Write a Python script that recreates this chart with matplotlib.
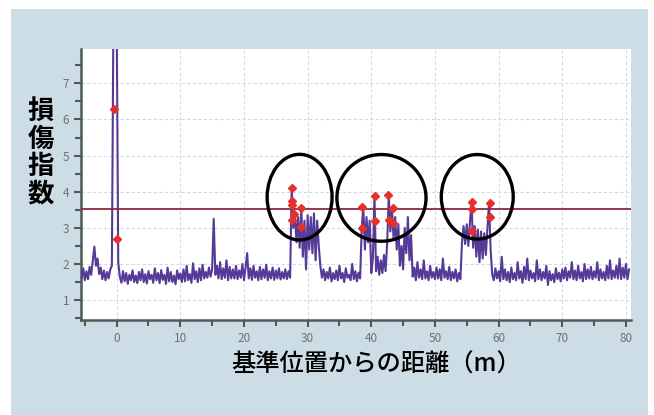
import numpy as np
import matplotlib
matplotlib.use("Agg")
import matplotlib.pyplot as plt
from matplotlib.patches import Ellipse, Rectangle

plt.rcParams['font.family'] = ['Noto Sans CJK JP', 'DejaVu Sans']

# distance grid (m): start and step of the measurement samples
x_start = -5.5
x_step = 0.25

# damage index, one row per 4 m (16 samples)
damage_idx = [
    1.62, 1.88, 1.55, 1.80, 1.58, 1.92, 1.70, 2.10, 2.48, 1.95, 2.15, 1.72, 1.90, 1.58, 1.82, 1.55,  # -5.5
    1.78, 1.60, 1.85, 1.95, 9.00, 9.00, 9.00, 2.05, 1.65, 1.48, 1.80, 1.52, 1.75, 1.45, 1.70, 1.55,  # -1.5
    1.82, 1.50, 1.68, 1.47, 1.78, 1.55, 1.85, 1.50, 1.72, 1.46, 1.80, 1.58, 1.70, 1.48, 1.88, 1.55,  # 2.5
    1.75, 1.47, 1.83, 1.56, 1.70, 1.45, 1.90, 1.52, 1.78, 1.50, 1.68, 1.44, 1.82, 1.58, 1.74, 1.50,  # 6.5
    1.85, 1.52, 1.95, 1.55, 1.72, 1.48, 2.02, 1.58, 1.80, 1.50, 1.88, 1.55, 1.98, 1.60, 1.78, 1.62,  # 10.5
    1.90, 1.65, 1.85, 3.25, 1.70, 1.95, 1.60, 2.05, 1.58, 1.88, 1.62, 2.10, 1.55, 1.92, 1.60, 1.85,  # 14.5
    1.60, 1.95, 1.58, 1.82, 1.62, 2.00, 1.55, 1.90, 2.30, 1.60, 1.88, 1.56, 1.95, 1.62, 1.80, 1.55,  # 18.5
    1.92, 1.58, 1.85, 1.62, 1.98, 1.55, 1.80, 1.60, 1.90, 1.56, 1.82, 1.60, 1.88, 1.57, 1.78, 1.60,  # 22.5
    1.85, 1.58, 1.80, 1.62, 4.10, 3.00, 3.40, 2.60, 3.30, 2.45, 3.55, 2.20, 3.20, 1.85, 3.35, 2.40,  # 26.5
    3.30, 2.30, 3.40, 2.10, 3.20, 2.50, 1.95, 1.62, 1.85, 1.55, 1.78, 1.60, 1.90, 1.52, 1.75, 1.58,  # 30.5
    1.82, 1.55, 1.95, 1.60, 1.75, 1.50, 1.88, 1.62, 1.70, 1.55, 2.00, 1.58, 1.80, 1.52, 1.76, 1.60,  # 34.5
    3.00, 3.57, 2.40, 3.30, 2.60, 3.20, 1.75, 2.15, 3.90, 1.80, 2.20, 1.70, 2.10, 1.75, 2.25, 1.80,  # 38.5
    2.60, 3.91, 2.90, 3.54, 2.70, 3.30, 2.40, 3.10, 1.95, 2.50, 1.85, 3.00, 2.30, 3.30, 2.10, 2.80,  # 42.5
    1.65, 1.90, 1.55, 2.05, 1.62, 1.85, 1.58, 2.10, 1.60, 1.80, 1.55, 1.95, 1.62, 1.78, 1.58, 1.90,  # 46.5
    1.60, 1.85, 1.55, 2.15, 1.62, 1.80, 1.58, 1.92, 1.55, 1.78, 1.60, 1.85, 1.52, 1.75, 1.58, 2.60,  # 50.5
    3.05, 2.55, 3.10, 2.50, 3.15, 3.72, 2.45, 3.05, 2.20, 2.95, 2.05, 2.90, 2.15, 2.85, 2.25, 3.00,  # 54.5
    3.69, 2.40, 1.70, 1.55, 1.88, 1.60, 1.80, 1.52, 2.20, 1.58, 1.85, 1.55, 1.78, 1.50, 1.90, 1.58,  # 58.5
    1.75, 1.55, 2.05, 1.60, 1.80, 1.48, 1.92, 1.58, 2.15, 1.55, 1.82, 1.60, 1.75, 1.52, 2.10, 1.58,  # 62.5
    1.85, 1.55, 1.78, 1.60, 1.95, 1.42, 1.80, 1.55, 1.72, 1.50, 1.88, 1.58, 1.76, 1.52, 1.85, 1.60,  # 66.5
    1.90, 1.55, 1.80, 1.62, 2.05, 1.58, 1.82, 1.55, 1.95, 1.60, 1.78, 1.52, 2.00, 1.58, 1.85, 1.60,  # 70.5
    1.92, 1.58, 1.80, 1.62, 2.05, 1.55, 1.85, 1.60, 1.78, 1.55, 1.95, 1.60, 2.10, 1.58, 1.82, 1.62,  # 74.5
    1.95, 1.60, 2.15, 1.58, 1.90, 1.62, 2.00, 1.58, 1.85,                                              # 78.5
]

# detected damage points (red markers)
mark_x = [-0.37, 0.1, 27.6, 27.5, 27.6, 27.8, 27.6, 28.9, 28.9,
          38.6, 38.6, 40.6, 40.6, 42.7, 43.4, 42.8, 43.4,
          55.75, 55.75, 55.9, 58.6, 58.6]
mark_y = [6.28, 2.70, 4.10, 3.74, 3.62, 3.39, 3.22, 3.54, 3.02,
          3.57, 3.00, 3.89, 3.18, 3.91, 3.54, 3.22, 3.13,
          3.72, 3.52, 2.91, 3.69, 3.31]

threshold = 3.52

# circled zones: centre x, centre y, width, height
zone_cx = [28.74, 41.6, 56.65]
zone_cy = [3.85, 3.83, 3.86]
zone_w = [10.2, 14.0, 11.3]
zone_h = [2.37, 2.40, 2.34]

dist = x_start + x_step * np.arange(len(damage_idx))

fig = plt.figure(figsize=(6.54, 4.15), dpi=100, facecolor="white")
fig.patches.append(Rectangle((11 / 654, 0), 637 / 654, 406 / 415,
                             transform=fig.transFigure, facecolor="#cddde6",
                             edgecolor="none", zorder=-10))

ax = fig.add_axes([81 / 654, 1 - 320 / 415, 550 / 654, 271 / 415])
ax.set_facecolor("white")

ax.plot(dist, damage_idx, color="#553a98", lw=1.5, zorder=3)
ax.axhline(threshold, color="#8a2b3c", lw=1.3, zorder=4)
ax.plot(mark_x, mark_y, ls="none", marker="D", ms=4, color="#e8302a",
        mec="#e8302a", zorder=5)

for cx, cy, w, h in zip(zone_cx, zone_cy, zone_w, zone_h):
    ax.add_patch(Ellipse((cx, cy), w, h, fill=False, ec="black", lw=2.4,
                         zorder=6, clip_on=False))

ax.set_xlim(-5.6, 80.8)
ax.set_ylim(0.45, 7.95)
ax.set_xticks(np.arange(0, 81, 10))
ax.set_xticks(np.arange(-5, 81, 5), minor=True)
ax.set_yticks(np.arange(1, 8, 1))
ax.set_yticks(np.arange(0.5, 8.0, 0.5), minor=True)

ax.grid(True, which="major", color="#d0dbea", ls=(0, (3, 2)), lw=0.8)
ax.set_axisbelow(True)

for side in ["top", "right"]:
    ax.spines[side].set_visible(False)
for side in ["left", "bottom"]:
    ax.spines[side].set_color("#4d5a55")
    ax.spines[side].set_linewidth(1.8)

ax.tick_params(which="both", direction="out", color="#4d5a55", width=1.5,
               labelcolor="#707070", labelsize=8.5)
ax.tick_params(which="major", length=5)
ax.tick_params(which="minor", length=4)

fig.text(41 / 654, 1 - 153 / 415, "損\n傷\n指\n数", ha="center", va="center",
         fontsize=19, fontweight="bold", linespacing=1.02)
fig.text(376 / 654, 1 - 365 / 415, "基準位置からの距離（m）", ha="center",
         va="center", fontsize=17.5, fontweight="medium")

fig.savefig("out.png", dpi=100, facecolor="white")
